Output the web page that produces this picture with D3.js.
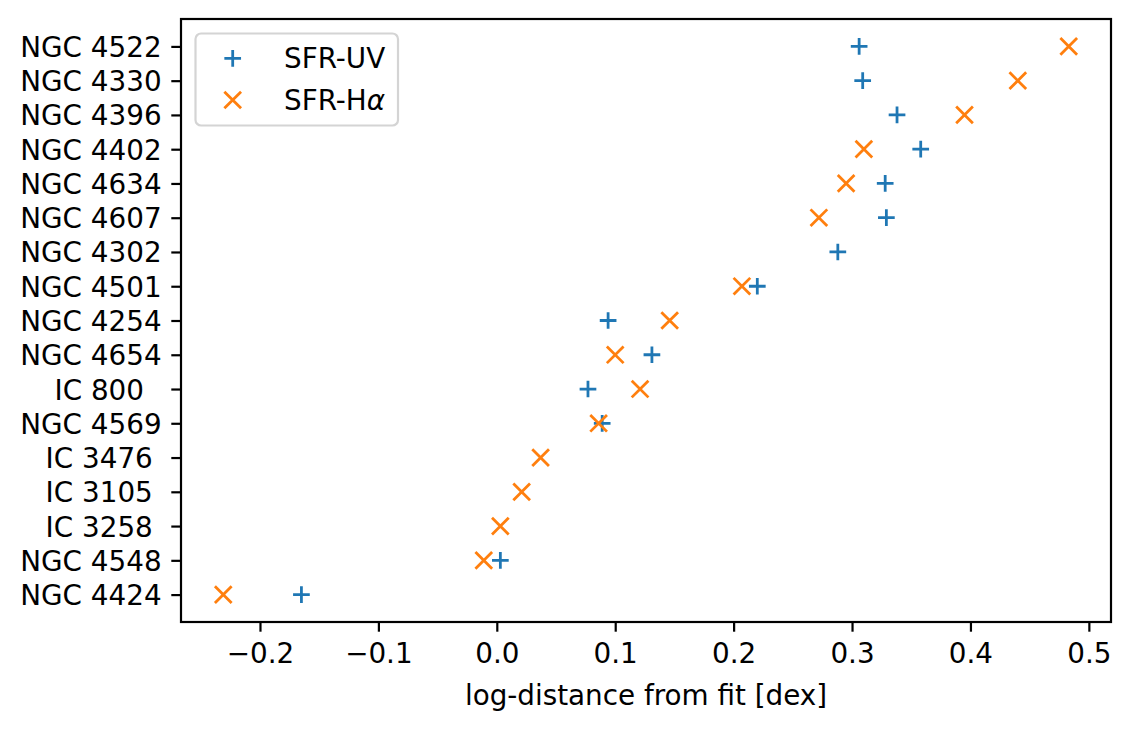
<!DOCTYPE html>
<html>
<head>
<meta charset="utf-8">
<script src="https://cdn.jsdelivr.net/npm/d3@7"></script>
<style>
  body { margin: 0; background: #fff; }
  svg text { font-family: "DejaVu Sans", sans-serif; fill: #000; white-space: pre; }
</style>
</head>
<body>
<svg id="chart" width="1130" height="730"></svg>
<script>
// galaxies, bottom to top
var galaxies = ['NGC 4424', 'NGC 4548', 'IC 3258 ', 'IC 3105 ', 'IC 3476 ', 'NGC 4569',
  'IC 800  ', 'NGC 4654', 'NGC 4254', 'NGC 4501', 'NGC 4302', 'NGC 4607', 'NGC 4634',
  'NGC 4402', 'NGC 4396', 'NGC 4330', 'NGC 4522'];
var sfrUV = [-0.165, 0.003, null, null, null, 0.089,
  0.077, 0.131, 0.094, 0.220, 0.288, 0.329, 0.328,
  0.358, 0.338, 0.309, 0.306];
var sfrHa = [-0.231, -0.011, 0.003, 0.021, 0.037, 0.086,
  0.121, 0.100, 0.146, 0.207, null, 0.272, 0.295,
  0.310, 0.395, 0.440, 0.483];
var xTicks = [-0.2, -0.1, 0.0, 0.1, 0.2, 0.3, 0.4, 0.5];

var blue = '#1f77b4', orange = '#ff7f0e';
var fontPx = 27.8, tickLen = 9.7, pad = 9.7, ms = 8.35, mew = 2.78;

var svg = d3.select('#chart');
var plotL = 181, plotT = 19, plotR = 1111, plotB = 622;

var allX = sfrUV.concat(sfrHa).filter(function (d) { return d !== null; });
var xMin = d3.min(allX), xMax = d3.max(allX), xm = (xMax - xMin) * 0.05;
var x = d3.scaleLinear().domain([xMin - xm, xMax + xm]).range([plotL, plotR]);
var y = d3.scaleLinear().domain([-0.8, galaxies.length - 1 + 0.8]).range([plotB, plotT]);

// x axis
var xAxis = svg.append('g').attr('transform', 'translate(0,' + plotB + ')')
  .call(d3.axisBottom(x).tickValues(xTicks).tickSize(tickLen).tickPadding(pad)
    .tickFormat(function (d) { return d3.format('.1f')(d).replace('-', '\u2212'); }));
xAxis.select('.domain').remove();
xAxis.selectAll('line').attr('stroke', '#000').attr('stroke-width', 2.2);
xAxis.selectAll('text').attr('font-size', fontPx).attr('font-family', null)
  .attr('dy', null).attr('y', tickLen + pad + 0.76 * fontPx);

// y axis
var yAxis = svg.append('g').attr('transform', 'translate(' + plotL + ',0)')
  .call(d3.axisLeft(y).tickValues(d3.range(galaxies.length)).tickSize(tickLen).tickPadding(pad)
    .tickFormat(function (d) { return galaxies[d]; }));
yAxis.select('.domain').remove();
yAxis.selectAll('line').attr('stroke', '#000').attr('stroke-width', 2.2);
yAxis.selectAll('text').attr('font-size', fontPx).attr('font-family', null)
  .attr('dy', '0.36em');

// frame
svg.append('rect')
  .attr('x', plotL).attr('y', plotT)
  .attr('width', plotR - plotL).attr('height', plotB - plotT)
  .attr('fill', 'none').attr('stroke', '#000').attr('stroke-width', 2.2);

svg.append('text')
  .attr('x', (plotL + plotR) / 2).attr('y', 705)
  .attr('text-anchor', 'middle').attr('font-size', fontPx)
  .text('log-distance from fit [dex]');

var plusPath = function (cx, cy) {
  return 'M' + (cx - ms) + ',' + cy + 'H' + (cx + ms) + 'M' + cx + ',' + (cy - ms) + 'V' + (cy + ms);
};
var crossPath = function (cx, cy) {
  return 'M' + (cx - ms) + ',' + (cy - ms) + 'L' + (cx + ms) + ',' + (cy + ms) +
    'M' + (cx - ms) + ',' + (cy + ms) + 'L' + (cx + ms) + ',' + (cy - ms);
};

var pts = svg.append('g');
pts.selectAll('path.uv')
  .data(sfrUV.map(function (v, i) { return { v: v, i: i }; }).filter(function (d) { return d.v !== null; }))
  .enter()
  .append('path')
  .classed('uv', true)
  .attr('d', function (d) { return plusPath(x(d.v), y(d.i)); })
  .attr('stroke', blue).attr('stroke-width', mew).attr('fill', 'none');
pts.selectAll('path.ha')
  .data(sfrHa.map(function (v, i) { return { v: v, i: i }; }).filter(function (d) { return d.v !== null; }))
  .enter()
  .append('path')
  .classed('ha', true)
  .attr('d', function (d) { return crossPath(x(d.v), y(d.i)); })
  .attr('stroke', orange).attr('stroke-width', mew).attr('fill', 'none');

// legend
var lg = svg.append('g');
lg.append('rect')
  .attr('x', 195.5).attr('y', 33.5).attr('width', 202.5).attr('height', 92)
  .attr('rx', 5.6).attr('fill', '#fff').attr('fill-opacity', 0.8)
  .attr('stroke', '#d4d4d4').attr('stroke-width', 2.2);
var legendRows = [
  { label: 'SFR-UV', color: blue, path: plusPath, y: 58.3 },
  { label: 'SFR-H', color: orange, path: crossPath, y: 100, greek: '\u03b1' }
];
legendRows.forEach(function (r) {
  lg.append('path').attr('d', r.path(232.7, r.y))
    .attr('stroke', r.color).attr('stroke-width', mew).attr('fill', 'none');
  var t = lg.append('text').attr('x', 284).attr('y', r.y + 10)
    .attr('font-size', fontPx).text(r.label);
  if (r.greek) t.append('tspan').attr('font-style', 'italic').text(r.greek);
});
</script>
</body>
</html>
